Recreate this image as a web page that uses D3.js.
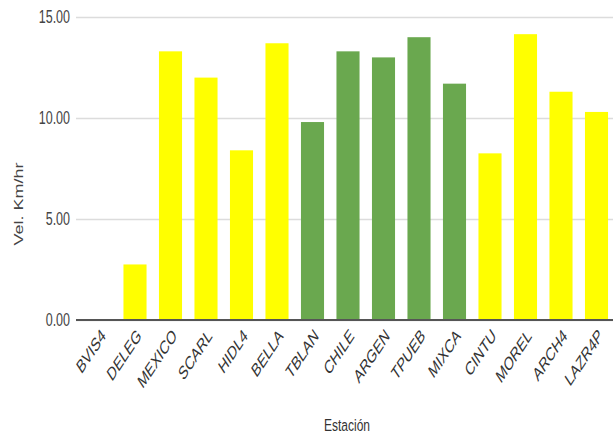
<!DOCTYPE html>
<html><head><meta charset="utf-8">
<script src="https://cdn.jsdelivr.net/npm/d3@7"></script>
<style>body{margin:0;background:#fff}svg{display:block;font-family:Arial,"Liberation Sans",sans-serif}</style>
</head><body><svg id="c" width="613" height="436"></svg>
<script>
const categories = ["BVIS4","DELEG","MEXICO","SCARL","HIDL4","BELLA","TBLAN","CHILE","ARGEN","TPUEB","MIXCA","CINTU","MOREL","ARCH4","LAZR4P"];
const values = [0, 2.75, 13.3, 12.0, 8.4, 13.7, 9.8, 13.3, 13.0, 14.0, 11.7, 8.25, 14.15, 11.3, 10.3];
const groups = ["y","y","y","y","y","y","g","g","g","g","g","y","y","y","y"];
const yTicks = [0, 5, 10, 15];
const yTitle = "Vel. Km/hr";
const xTitle = "Estación";

const svg = d3.select("#c");
const color = d3.scaleOrdinal().domain(["y","g"]).range(["#ffff00","#6aa84f"]);
const x = d3.scaleBand().domain(categories).range([81.75, 614.25]).paddingInner(0.35).paddingOuter(0.175);
const y = d3.scaleLinear().domain([0, 15]).range([320, 17]);

const gy = svg.append("g").attr("transform","translate(76,0)")
  .call(d3.axisLeft(y).tickValues(yTicks).tickSize(-537).tickFormat(d3.format(".2f")).tickPadding(6));
gy.select(".domain").remove();
gy.selectAll(".tick line").attr("stroke","#dcdcdc").attr("stroke-width",1.5);
gy.selectAll(".tick text").attr("fill","#444").attr("font-size",12.5)
  .attr("font-family","Arial, 'Liberation Sans', sans-serif")
  .attr("transform","scale(1,1.45)");

svg.append("g").selectAll("rect").data(categories).join("rect")
  .attr("x", d => x(d)).attr("width", x.bandwidth())
  .attr("y", (d,i) => y(values[i])).attr("height", (d,i) => y(0) - y(values[i]))
  .attr("fill", (d,i) => color(groups[i]));

const gx = svg.append("g").attr("transform","translate(0,320)")
  .call(d3.axisBottom(x).tickSize(0).tickPadding(0));
gx.select(".domain").attr("stroke","#555").attr("stroke-width",2).attr("d","M76,0H613");
gx.selectAll(".tick text")
  .attr("font-size",12.5).attr("fill","#333")
  .attr("text-anchor","end").attr("dy",0).attr("y",0)
  .attr("transform","translate(7,17) scale(1,1.5) rotate(-45)");

svg.append("text").attr("transform","translate(23,204) scale(1,1.5) rotate(-90)")
  .attr("text-anchor","middle").attr("font-size",12).attr("fill","#444").text(yTitle);
svg.append("text").attr("transform","translate(347,431) scale(1,1.45)")
  .attr("text-anchor","middle").attr("font-size",12).attr("fill","#333").text(xTitle);
</script></body></html>
